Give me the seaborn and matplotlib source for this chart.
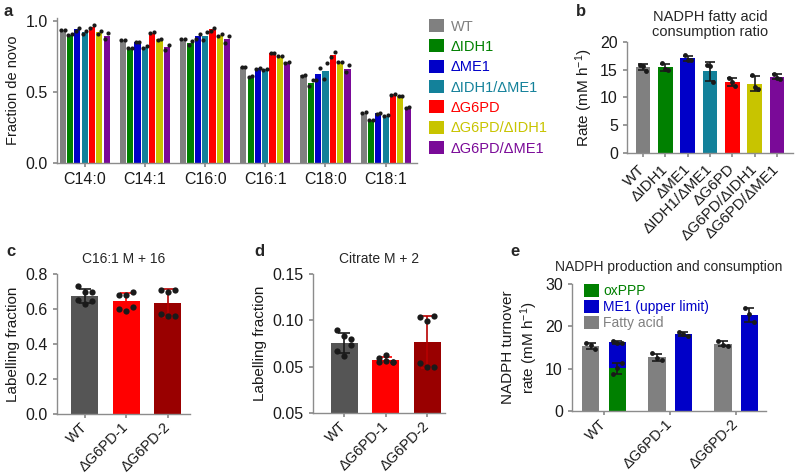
import numpy as np
import pandas as pd
import matplotlib
matplotlib.use('Agg')
import matplotlib.pyplot as plt
import seaborn as sns
from matplotlib.patches import Patch

# ---- panel a: fraction de novo, two replicates per strain ----
lipids = ['C14:0', 'C14:1', 'C16:0', 'C16:1', 'C18:0', 'C18:1']
strains = ['WT', 'ΔIDH1', 'ΔME1', 'ΔIDH1/ΔME1', 'ΔG6PD', 'ΔG6PD/ΔIDH1', 'ΔG6PD/ΔME1']
strain_colors = ['#808080', '#008000', '#0000c8', '#13819a', '#ff0000', '#c8c400', '#7a0a98']
# one row per lipid, one column per strain
frac_rep1 = [
    [0.935, 0.902, 0.93, 0.91, 0.95, 0.91, 0.875],
    [0.862, 0.808, 0.848, 0.808, 0.912, 0.868, 0.795],
    [0.872, 0.83, 0.87, 0.865, 0.93, 0.89, 0.845],
    [0.672, 0.608, 0.66, 0.656, 0.773, 0.75, 0.705],
    [0.615, 0.545, 0.585, 0.59, 0.748, 0.71, 0.64],
    [0.352, 0.30, 0.347, 0.331, 0.48, 0.469, 0.388],
]
frac_rep2 = [
    [0.935, 0.904, 0.95, 0.93, 0.97, 0.93, 0.915],
    [0.866, 0.812, 0.852, 0.82, 0.922, 0.872, 0.83],
    [0.874, 0.86, 0.91, 0.925, 0.95, 0.91, 0.895],
    [0.676, 0.612, 0.67, 0.66, 0.777, 0.755, 0.709],
    [0.622, 0.585, 0.665, 0.70, 0.778, 0.714, 0.688],
    [0.357, 0.304, 0.352, 0.336, 0.484, 0.474, 0.395],
]

# ---- panel b: NADPH fatty acid consumption rate (mM/h), three replicates ----
rate_b = [
    [15.9, 15.7, 14.8],
    [16.2, 15.1, 15.0],
    [17.6, 16.8, 16.7],
    [15.9, 15.6, 12.8],
    [13.5, 12.8, 12.1],
    [14.0, 11.9, 11.6],
    [14.3, 13.6, 13.4],
]

# ---- panels c, d: labelling fractions, six replicates ----
lines_cd = ['WT', 'ΔG6PD-1', 'ΔG6PD-2']
colors_cd = ['#555555', '#ff0000', '#990000']
err_colors_cd = ['#1a1a1a', '#ff0000', '#b80000']
c161_m16 = [
    [0.73, 0.695, 0.70, 0.65, 0.63, 0.645],
    [0.68, 0.68, 0.70, 0.60, 0.59, 0.61],
    [0.71, 0.70, 0.71, 0.57, 0.56, 0.56],
]
citrate_m2 = [
    [0.0897, 0.0836, 0.080, 0.0664, 0.0614, 0.0732],
    [0.0592, 0.0628, 0.0549, 0.0546, 0.0557, 0.0549],
    [0.104, 0.099, 0.1044, 0.0538, 0.0499, 0.050],
]
citrate_ticks = ['0.05', '0.05', '0.10', '0.15']

# ---- panel e: NADPH production and consumption ----
flux_names = ['Fatty acid', 'ME1 (upper limit)', 'oxPPP']
flux_colors = {'Fatty acid': '#808080', 'ME1 (upper limit)': '#0000c8', 'oxPPP': '#008000'}
fatty_acid_e = [[16.0, 15.6, 14.6], [13.6, 12.6, 12.0], [16.6, 15.7, 15.4]]
me1_e = [[16.5, 16.1, 16.0], [18.7, 18.2, 17.8], [24.4, 22.8, 21.0]]
oxppp_wt = [11.4, 10.1, 8.8]

# ---------------------------------------------------------------
sns.set_theme(style='ticks')
plt.rcParams['font.family'] = ['Liberation Sans', 'DejaVu Sans']
plt.rcParams['mathtext.default'] = 'regular'
plt.rcParams.update({
    'axes.edgecolor': '#8c8c8c', 'axes.linewidth': 1.0,
    'xtick.color': '#8c8c8c', 'ytick.color': '#8c8c8c',
    'xtick.labelcolor': '#1a1a1a', 'ytick.labelcolor': '#1a1a1a',
    'xtick.major.size': 3, 'ytick.major.size': 3,
    'xtick.labelsize': 11.5, 'ytick.labelsize': 11.5,
    'axes.labelsize': 10.5, 'axes.titlesize': 10, 'axes.labelcolor': '#1a1a1a',
})

W, H = 800, 476
fig = plt.figure(figsize=(W / 100, H / 100), dpi=100)


def box(l, t, r, b):
    return [l / W, 1 - b / H, (r - l) / W, (b - t) / H]


def dodge_x(i, j, n, width):
    return i - width / 2 + width / n * (j + 0.5)


def rot_labels(ax, labels, size=10.5, pad=5):
    ax.set_xticks(range(len(labels)))
    ax.set_xticklabels(labels, rotation=45, ha='right', va='center',
                       rotation_mode='anchor', fontsize=size)
    ax.tick_params(axis='x', pad=pad)


# ---- a ----
ax_a = fig.add_axes(box(57, 18, 417, 163))
rows = []
for i, lip in enumerate(lipids):
    for j, s in enumerate(strains):
        rows.append((lip, s, frac_rep1[i][j]))
        rows.append((lip, s, frac_rep2[i][j]))
df_a = pd.DataFrame(rows, columns=['lipid', 'strain', 'frac'])
sns.barplot(data=df_a, x='lipid', y='frac', hue='strain', order=lipids, hue_order=strains,
            palette=strain_colors, width=0.85, gap=0.15, errorbar=None, saturation=1,
            linewidth=0, legend=False, ax=ax_a)
for i in range(len(lipids)):
    for j in range(len(strains)):
        xc = dodge_x(i, j, len(strains), 0.85)
        ax_a.plot([xc - 0.03, xc + 0.03], [frac_rep1[i][j], frac_rep2[i][j]], 'o',
                  color='k', ms=3.0, mec='none', zorder=4)
ax_a.set_xlim(-0.46, 5.52)
ax_a.set_ylim(0, 1.02)
ax_a.set_yticks([0, 0.5, 1.0])
ax_a.set_yticklabels(['0.0', '0.5', '1.0'])
ax_a.set_xlabel('')
ax_a.set_ylabel('Fraction de novo')
sns.despine(ax=ax_a)

handles = [Patch(facecolor=c, edgecolor='none') for c in strain_colors]
leg = fig.legend(handles, strains, loc='upper left', bbox_to_anchor=(429 / W, 1 - 19 / H),
                 frameon=False, fontsize=10.5, handlelength=1.0, handleheight=1.0,
                 handletextpad=0.5, labelspacing=0.4, borderaxespad=0, borderpad=0)
for t, c in zip(leg.get_texts(), strain_colors):
    t.set_color(c)

# ---- b ----
ax_b = fig.add_axes(box(627, 42, 793, 153))
df_b = pd.DataFrame([(s, v) for s, reps in zip(strains, rate_b) for v in reps],
                    columns=['strain', 'rate'])
sns.barplot(data=df_b, x='strain', y='rate', hue='strain', order=strains, hue_order=strains,
            palette=strain_colors, width=0.66, errorbar=None, saturation=1,
            linewidth=0, legend=False, ax=ax_b)
stats_b = df_b.groupby('strain', sort=False)['rate'].agg(['mean', 'std'])
ax_b.errorbar(range(len(strains)), stats_b['mean'], yerr=stats_b['std'], fmt='none',
              ecolor='k', elinewidth=1.2, capsize=3.5, capthick=1.2, zorder=3)
for i, reps in enumerate(rate_b):
    ax_b.plot(i + np.array([-0.13, 0.0, 0.13]), reps, 'o', color='k', ms=3.5, mec='none', zorder=4)
ax_b.set_xlim(-0.72, 6.72)
ax_b.set_ylim(0, 20)
ax_b.set_yticks([0, 5, 10, 15, 20])
rot_labels(ax_b, strains, size=11, pad=7)
ax_b.set_xlabel('')
ax_b.set_ylabel('Rate (mM h$^{-1}$)', fontsize=11)
ax_b.set_title('NADPH fatty acid\nconsumption ratio', pad=4, linespacing=1.1, fontsize=10.5)
sns.despine(ax=ax_b)


# ---- c and d ----
def label_panel(ax, reps_all, title, ylim, yticks, yticklabels, xlim):
    df = pd.DataFrame([(s, v) for s, reps in zip(lines_cd, reps_all) for v in reps],
                      columns=['line', 'frac'])
    sns.barplot(data=df, x='line', y='frac', hue='line', order=lines_cd, hue_order=lines_cd,
                palette=colors_cd, width=0.65, errorbar=None, saturation=1, linewidth=0,
                legend=False, ax=ax)
    st = df.groupby('line', sort=False)['frac'].agg(['mean', 'std'])
    for i, s in enumerate(lines_cd):
        ax.errorbar(i, st.loc[s, 'mean'], yerr=st.loc[s, 'std'], fmt='none',
                    ecolor=err_colors_cd[i], elinewidth=1.2, capsize=4, capthick=1.2, zorder=3)
        ax.plot(i + np.array([-0.17, 0.0, 0.17, -0.17, 0.0, 0.17]), reps_all[i], 'o',
                color='k', ms=4.5, mec='none', zorder=4)
    ax.set_xlim(*xlim)
    ax.set_ylim(*ylim)
    ax.set_yticks(yticks)
    ax.set_yticklabels(yticklabels)
    rot_labels(ax, lines_cd)
    ax.set_xlabel('')
    ax.set_ylabel('Labelling fraction', fontsize=11)
    ax.set_title(title, pad=8)
    sns.despine(ax=ax)


ax_c = fig.add_axes(box(57, 274, 190, 414))
label_panel(ax_c, c161_m16, 'C16:1 M + 16', (0, 0.8), [0, 0.2, 0.4, 0.6, 0.8],
            ['0.0', '0.2', '0.4', '0.6', '0.8'], (-0.67, 2.53))

ax_d = fig.add_axes(box(313, 274, 445, 413))
label_panel(ax_d, citrate_m2, 'Citrate M + 2', (0, 0.15), [0, 0.05, 0.10, 0.15],
            citrate_ticks, (-0.75, 2.43))

# ---- e ----
ax_e = fig.add_axes(box(572, 284, 766, 411))
rows = []
for s, fa, me in zip(lines_cd, fatty_acid_e, me1_e):
    rows += [(s, 'Fatty acid', v) for v in fa]
    rows += [(s, 'ME1 (upper limit)', v) for v in me]
df_e = pd.DataFrame(rows, columns=['line', 'flux', 'rate'])
sns.barplot(data=df_e, x='line', y='rate', hue='flux', order=lines_cd,
            hue_order=flux_names[:2], palette=flux_colors, width=0.8, gap=0.35,
            errorbar=None, saturation=1, linewidth=0, legend=False, ax=ax_e)
ox_x = dodge_x(0, 1, 2, 0.8)
ax_e.bar(ox_x, np.mean(oxppp_wt), width=0.26, color=flux_colors['oxPPP'], linewidth=0, zorder=2)
st_e = df_e.groupby(['line', 'flux'], sort=False)['rate'].agg(['mean', 'std'])
for i, s in enumerate(lines_cd):
    for j, f in enumerate(flux_names[:2]):
        x = dodge_x(i, j, 2, 0.8)
        ax_e.errorbar(x, st_e.loc[(s, f), 'mean'], yerr=st_e.loc[(s, f), 'std'], fmt='none',
                      ecolor='k', elinewidth=1.2, capsize=3.5, capthick=1.2, zorder=3)
        reps = fatty_acid_e[i] if j == 0 else me1_e[i]
        ax_e.plot(x + np.array([-0.07, 0.0, 0.07]), reps, 'o', color='k', ms=3.5,
                  mec='none', zorder=4)
ax_e.errorbar(ox_x, np.mean(oxppp_wt), yerr=np.std(oxppp_wt, ddof=1), fmt='none',
              ecolor='k', elinewidth=1.2, capsize=3.5, capthick=1.2, zorder=3)
ax_e.plot(ox_x + np.array([0.07, 0.0, -0.07]), oxppp_wt, 'o', color='k', ms=3.5,
          mec='none', zorder=4)
ax_e.set_xlim(-0.485, 2.45)
ax_e.set_ylim(0, 30)
ax_e.set_yticks([0, 10, 20, 30])
rot_labels(ax_e, lines_cd)
ax_e.set_xlabel('')
ax_e.set_ylabel('NADPH turnover\nrate (mM h$^{-1}$)', fontsize=11)
ax_e.set_title('NADPH production and consumption', pad=9)
sns.despine(ax=ax_e)

leg_order = ['oxPPP', 'ME1 (upper limit)', 'Fatty acid']
leg_e = ax_e.legend([Patch(facecolor=flux_colors[k], edgecolor='none') for k in leg_order],
                    leg_order, loc='upper left', bbox_to_anchor=(0.062, 1.0), frameon=False,
                    fontsize=10, handlelength=1.1, handleheight=1.1, handletextpad=0.3,
                    labelspacing=0.1, borderaxespad=0, borderpad=0)
for t, k in zip(leg_e.get_texts(), leg_order):
    t.set_color(flux_colors[k])

# panel letters
for letter, x, y in [('a', 4, 4), ('b', 576, 4), ('c', 6, 244), ('d', 254, 244), ('e', 510, 244)]:
    fig.text(x / W, 1 - y / H, letter, fontsize=12, fontweight='bold', va='top', ha='left')

fig.savefig('out.png', dpi=100)
